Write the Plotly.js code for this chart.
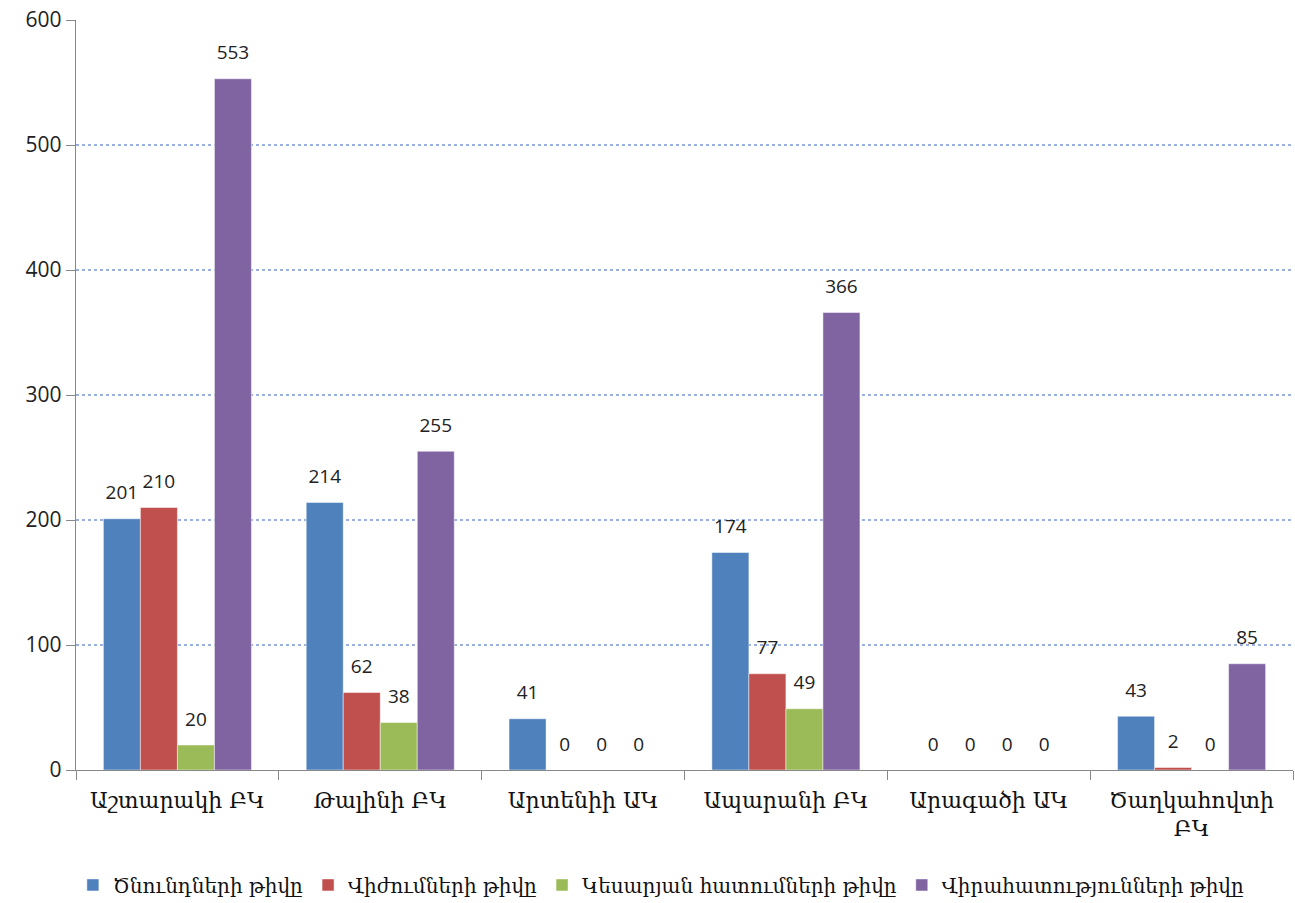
<!DOCTYPE html>
<html><head><meta charset="utf-8">
<script src="https://cdn.plot.ly/plotly-3.0.1.min.js"></script>
<style>html,body{margin:0;padding:0;background:#fff}#chart{width:1295px;height:903px}</style>
</head><body><div id="chart"></div>
<script>
const categories = ["Աշտարակի ԲԿ","Թալինի ԲԿ","Արտենիի ԱԿ","Ապարանի ԲԿ","Արագածի ԱԿ","Ծաղկահովտի<br>ԲԿ"];
const seriesNames = ["Ծնունդների թիվը","Վիժումների թիվը","Կեսարյան հատումների թիվը","Վիրահատությունների թիվը"];
const births = [201,214,41,174,0,43];
const abortions = [210,62,0,77,0,2];
const cesareans = [20,38,0,49,0,0];
const surgeries = [553,255,0,366,0,85];
const colors = ["#4F81BD","#C0504D","#9BBB59","#8064A2"];
const yTicks = [0,100,200,300,400,500,600];

const allValues = [births,abortions,cesareans,surgeries];
const armFont = "'DejaVu Serif','Noto Serif',serif";
const numFont = "'Open Sans','Liberation Sans',sans-serif";

const bars = allValues.map((vals,i)=>({
  type:'bar', name:seriesNames[i], x:categories, y:vals,
  offsetgroup:String(i), alignmentgroup:'a',
  marker:{color:colors[i], line:{color:'rgba(255,255,255,0.6)', width:0.8}},
  hoverinfo:'none'
}));
const labels = allValues.map((vals,i)=>({
  type:'scatter', mode:'markers+text', x:categories, y:vals, showlegend:false,
  offsetgroup:String(i), alignmentgroup:'a',
  marker:{size:22, opacity:0}, text:vals.map(String), textposition:'top center',
  textfont:{family:numFont, size:19, color:'#222'}, cliponaxis:false, hoverinfo:'none'
}));

const layout = {
  width:1295, height:903,
  margin:{l:76, r:2, t:20, b:133},
  paper_bgcolor:'#fff', plot_bgcolor:'#fff',
  barmode:'group', bargap:0.27, bargroupgap:0,
  scattermode:'group', scattergap:0.27,
  showlegend:true,
  legend:{orientation:'h', x:0.481, xanchor:'center', yref:'container', y:0.02, yanchor:'middle',
    font:{family:armFont, size:20, color:'#111'}, traceorder:'normal'},
  xaxis:{type:'category', tickson:'boundaries', ticks:'outside', ticklen:9, tickcolor:'#888',
    showline:true, linecolor:'#888', linewidth:1.3, showgrid:false, ticklabelstandoff:10,
    tickfont:{family:armFont, size:22, color:'#111'}},
  yaxis:{range:[0,600], tickvals:yTicks, ticks:'outside', ticklen:9, tickcolor:'#888',
    showline:true, linecolor:'#888', linewidth:1.3, zeroline:false,
    showgrid:true, gridcolor:'#9AB0E0', griddash:'dot', gridwidth:1.3,
    tickfont:{family:numFont, size:21, color:'#222'}}
};
Plotly.newPlot('chart', bars.concat(labels), layout, {displayModeBar:false, staticPlot:true});
</script></body></html>
